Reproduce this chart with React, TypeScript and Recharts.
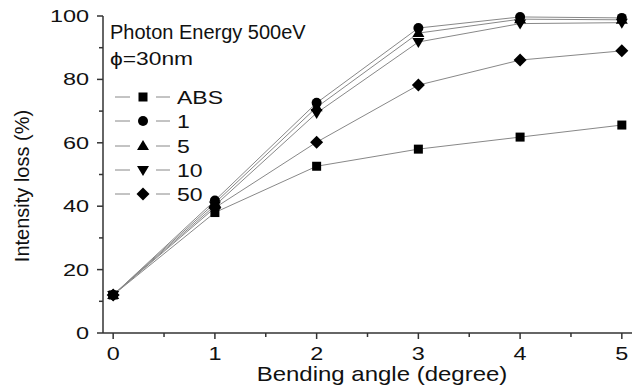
import React from 'react';
import { LineChart, Line, XAxis, YAxis } from 'recharts';

const angles = [0, 1, 2, 3, 4, 5];
const absLoss = [12, 38, 52.6, 58, 61.8, 65.6];
const loss1 = [12, 41.8, 72.6, 96.2, 99.7, 99.4];
const loss5 = [12, 41, 71.2, 94.6, 99, 98.8];
const loss10 = [12, 40.2, 69.4, 91.8, 97.6, 97.9];
const loss50 = [12, 39.5, 60.2, 78.2, 86.1, 89];

const xTicks = [0, 0.5, 1, 1.5, 2, 2.5, 3, 3.5, 4, 4.5, 5];
const yTicks = [0, 10, 20, 30, 40, 50, 60, 70, 80, 90, 100];

const seriesNames = ['ABS', '1', '5', '10', '50'];
const seriesKeys = ['abs', 's1', 's5', 's10', 's50'];
const seriesShapes = ['square', 'circle', 'up', 'down', 'diamond'];

const data = angles.map((a, i) => ({
  angle: a,
  abs: absLoss[i],
  s1: loss1[i],
  s5: loss5[i],
  s10: loss10[i],
  s50: loss50[i],
}));

const FONT = '"Liberation Sans", Arial, sans-serif';
const AXIS = '#333';
const LINE = '#888';

function Marker({ shape, cx, cy }: { shape: string; cx: number; cy: number }) {
  const f = '#000';
  if (shape === 'square') return <rect x={cx - 4.5} y={cy - 4.5} width={9} height={9} fill={f} />;
  if (shape === 'circle') return <circle cx={cx} cy={cy} r={5} fill={f} />;
  if (shape === 'up') return <polygon points={`${cx},${cy - 6} ${cx - 6},${cy + 4} ${cx + 6},${cy + 4}`} fill={f} />;
  if (shape === 'down') return <polygon points={`${cx},${cy + 6} ${cx - 6},${cy - 4} ${cx + 6},${cy - 4}`} fill={f} />;
  return <polygon points={`${cx},${cy - 6.5} ${cx + 6.5},${cy} ${cx},${cy + 6.5} ${cx - 6.5},${cy}`} fill={f} />;
}

const makeDot = (shape: string) => (props: any) => (
  <Marker key={`${shape}-${props.index}`} shape={shape} cx={props.cx} cy={props.cy} />
);

const XTick = (props: any) => {
  const { x, y, payload } = props;
  const v = payload.value;
  const major = Number.isInteger(v);
  return (
    <g>
      <line x1={x} y1={y} x2={x} y2={y + (major ? 6 : 4)} stroke={AXIS} strokeWidth={1.5} />
      {major && (
        <text transform={`translate(${x},${y + 27}) scale(1.3,1)`} textAnchor="middle" fontSize={18} fontFamily={FONT} fill="#111">
          {v}
        </text>
      )}
    </g>
  );
};

const YTick = (props: any) => {
  const { x, y, payload } = props;
  const v = payload.value;
  const major = v % 20 === 0;
  return (
    <g>
      <line x1={x} y1={y} x2={x - (major ? 6 : 4)} y2={y} stroke={AXIS} strokeWidth={1.5} />
      {major && (
        <text transform={`translate(${x - 14},${y + 6}) scale(1.38,1)`} textAnchor="end" fontSize={17} fontFamily={FONT} fill="#111">
          {v}
        </text>
      )}
    </g>
  );
};

const legendY = [97, 121, 146, 170, 194];

export default function App() {
  return (
    <div style={{ position: 'absolute', left: 0, top: 0, width: 640, height: 389, background: '#fff' }}>
      <LineChart width={640} height={389} data={data} margin={{ top: 16, right: 8, left: 0, bottom: 0 }}>
        <XAxis
          dataKey="angle"
          type="number"
          domain={[-0.1, 5.1]}
          ticks={xTicks}
          interval={0}
          tickSize={0}
          tickMargin={0}
          tick={XTick}
          tickLine={false}
          axisLine={{ stroke: AXIS, strokeWidth: 1.5 }}
          height={56}
        />
        <XAxis xAxisId="top" orientation="top" dataKey="angle" type="number" domain={[-0.1, 5.1]} tick={false} tickLine={false} height={0} axisLine={{ stroke: AXIS, strokeWidth: 1.5 }} />
        <YAxis
          type="number"
          domain={[0, 100]}
          ticks={yTicks}
          interval={0}
          tickSize={0}
          tickMargin={0}
          tick={YTick}
          tickLine={false}
          width={103}
          axisLine={{ stroke: AXIS, strokeWidth: 1.5 }}
        />
        <YAxis yAxisId="right" orientation="right" type="number" domain={[0, 100]} tick={false} tickLine={false} width={0} axisLine={{ stroke: AXIS, strokeWidth: 1.5 }} />
        {seriesKeys.map((k, i) => (
          <Line
            key={k}
            dataKey={k}
            stroke={LINE}
            strokeWidth={1}
            isAnimationActive={false}
            dot={makeDot(seriesShapes[i])}
            activeDot={false}
          />
        ))}
      </LineChart>
      <svg width={640} height={389} style={{ position: 'absolute', left: 0, top: 0, pointerEvents: 'none' }}>
        <text x={110} y={39} fontSize={20} fontFamily={FONT} fill="#111">Photon Energy 500eV</text>
        <text transform="translate(110,65) scale(1.2,1)" fontSize={19} fontFamily={FONT} fill="#111">ϕ=30nm</text>
        {seriesNames.map((n, i) => (
          <g key={n}>
            <line x1={115} y1={legendY[i]} x2={170} y2={legendY[i]} stroke={LINE} strokeWidth={1} />
            <rect x={130} y={legendY[i] - 6} width={26} height={12} fill="#fff" />
            <Marker shape={seriesShapes[i]} cx={143} cy={legendY[i]} />
            <text transform={`translate(177,${legendY[i] + 6.5}) scale(1.28,1)`} fontSize={18} fontFamily={FONT} fill="#111">{n}</text>
          </g>
        ))}
        <text transform="translate(382,381) scale(1.2,1)" textAnchor="middle" fontSize={20} fontFamily={FONT} fill="#111">Bending angle (degree)</text>
        <text transform="translate(29,186) rotate(-90)" textAnchor="middle" fontSize={20} fontFamily={FONT} fill="#111">Intensity loss (%)</text>
      </svg>
    </div>
  );
}
